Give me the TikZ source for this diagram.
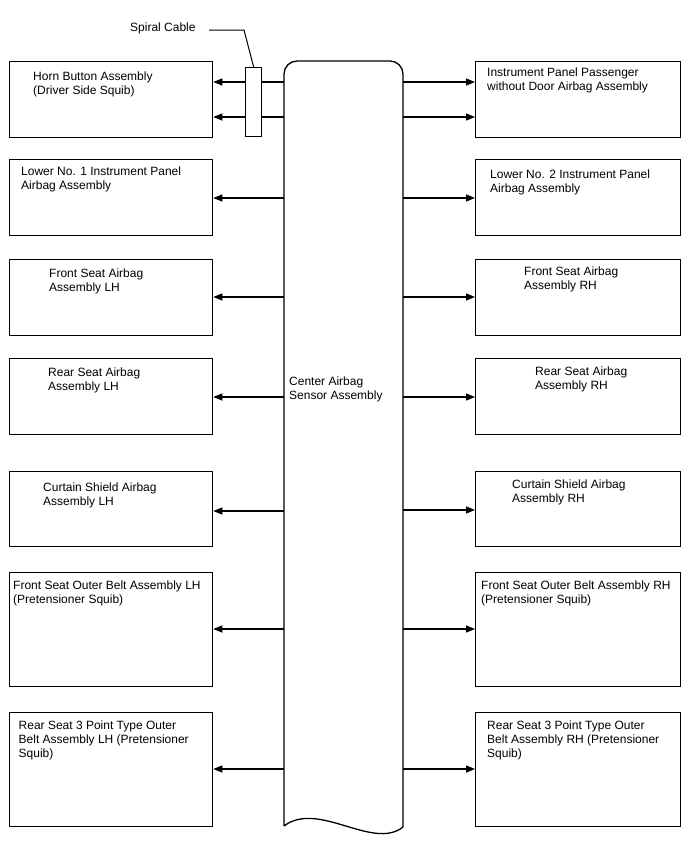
\documentclass[tikz,border=0pt]{standalone}
\usepackage{fontspec}
\setmainfont{Liberation Sans}
\usetikzlibrary{arrows.meta}
\begin{document}
\begin{tikzpicture}[x=1pt,y=-1pt,
  box/.style={draw, line width=1.3pt, inner sep=0, anchor=north west},
  lbox/.style={box, minimum width=203pt},
  rbox/.style={box, minimum width=205pt},
  lbl/.style={anchor=north west, inner sep=0, align=left, font=\fontsize{12}{14}\selectfont},
  wire/.style={line width=1.3pt},
  conn/.style={line width=1.3pt, -{Triangle[length=9pt,width=7pt]}},
]
\useasboundingbox[fill=white] (0,0) rectangle (688,852);

% center column
\node[inner sep=0, minimum width=119pt, minimum height=765pt, anchor=north west] (cas) at (284,61) {};
\draw[wire] (284,826) -- (284,74) .. controls (284,66.8) and (289.8,61) .. (297,61)
  -- (390,61) .. controls (397.2,61) and (403,66.8) .. (403,74)
  -- (403,827) .. controls (373,851) and (318,800) .. (284,826);
\node[lbl] (caslbl) at (289,375.2) {\strut Center Airbag\\Sensor Assembly};

% boxes left
\node[lbox, minimum height=76pt] (horn) at (9,61) {};
\node[lbox, minimum height=76pt] (low1) at (9,159) {};
\node[lbox, minimum height=76pt] (fslh) at (9,259) {};
\node[lbox, minimum height=76pt] (rslh) at (9,358) {};
\node[lbox, minimum height=75pt] (cslh) at (9,471) {};
\node[lbox, minimum height=114pt] (folh) at (9,572) {};
\node[lbox, minimum height=114pt] (r3lh) at (9,712) {};
% boxes right
\node[rbox, minimum height=76pt] (ipp) at (475,61) {};
\node[rbox, minimum height=76pt] (low2) at (475,159) {};
\node[rbox, minimum height=76pt] (fsrh) at (475,259) {};
\node[rbox, minimum height=76pt] (rsrh) at (475,358) {};
\node[rbox, minimum height=75pt] (csrh) at (475,471) {};
\node[rbox, minimum height=114pt] (forh) at (475,572) {};
\node[rbox, minimum height=114pt] (r3rh) at (475,712) {};

% labels
\node[lbl] at (33,70.2) {\strut Horn Button Assembly\\(Driver Side Squib)};
\node[lbl] at (487,66.2) {\strut Instrument Panel Passenger\\without Door Airbag Assembly};
\node[lbl] at (21,165.2) {\strut Lower No. 1 Instrument Panel\\Airbag Assembly};
\node[lbl] at (490,168.2) {\strut Lower No. 2 Instrument Panel\\Airbag Assembly};
\node[lbl] at (49,267.2) {\strut Front Seat Airbag\\Assembly LH};
\node[lbl] at (524,265.2) {\strut Front Seat Airbag\\Assembly RH};
\node[lbl] at (48,366.2) {\strut Rear Seat Airbag\\Assembly LH};
\node[lbl] at (535,365.2) {\strut Rear Seat Airbag\\Assembly RH};
\node[lbl] at (43,481.2) {\strut Curtain Shield Airbag\\Assembly LH};
\node[lbl] at (512,478.2) {\strut Curtain Shield Airbag\\Assembly RH};
\node[lbl] at (13,579.2) {\strut Front Seat Outer Belt Assembly LH\\(Pretensioner Squib)};
\node[lbl] at (481,579.2) {\strut Front Seat Outer Belt Assembly RH\\(Pretensioner Squib)};
\node[lbl] at (18.5,719.2) {\strut Rear Seat 3 Point Type Outer\\Belt Assembly LH (Pretensioner\\Squib)};
\node[lbl] at (487,719.2) {\strut Rear Seat 3 Point Type Outer\\Belt Assembly RH (Pretensioner\\Squib)};

% spiral cable
\coordinate (ya) at (0,82);
\coordinate (yb) at (0,117);
\draw[wire] (cas.west |- ya) -- (245,82);
\draw[wire] (cas.west |- yb) -- (245,117);
\node[draw, fill=white, line width=1.3pt, inner sep=0, minimum width=16pt, minimum height=69pt, anchor=north west] (spiral) at (245,67) {};
\draw[conn] (spiral.west |- ya) -- (horn.east |- ya);
\draw[conn] (spiral.west |- yb) -- (horn.east |- yb);
\node[lbl] (sclbl) at (130,21.2) {\strut Spiral Cable};
\coordinate (bend) at (244,30);
\draw[line width=1pt] (209,30) -- (bend) -- (spiral.north);

% right top arrows
\draw[conn] (cas.east |- ya) -- (ipp.west |- ya);
\draw[conn] (cas.east |- yb) -- (ipp.west |- yb);

% other arrows
\draw[conn] (cas.west |- 0,198) -- (low1.east |- 0,198);
\draw[conn] (cas.east |- 0,198) -- (low2.west |- 0,198);
\draw[conn] (cas.west |- 0,297) -- (fslh.east |- 0,297);
\draw[conn] (cas.east |- 0,297) -- (fsrh.west |- 0,297);
\draw[conn] (cas.west |- 0,397) -- (rslh.east |- 0,397);
\draw[conn] (cas.east |- 0,397) -- (rsrh.west |- 0,397);
\draw[conn] (cas.west |- 0,511) -- (cslh.east |- 0,511);
\draw[conn] (cas.east |- 0,510) -- (csrh.west |- 0,510);
\draw[conn] (cas.west |- 0,629) -- (folh.east |- 0,629);
\draw[conn] (cas.east |- 0,629) -- (forh.west |- 0,629);
\draw[conn] (cas.west |- 0,769) -- (r3lh.east |- 0,769);
\draw[conn] (cas.east |- 0,769) -- (r3rh.west |- 0,769);
\end{tikzpicture}
\end{document}
